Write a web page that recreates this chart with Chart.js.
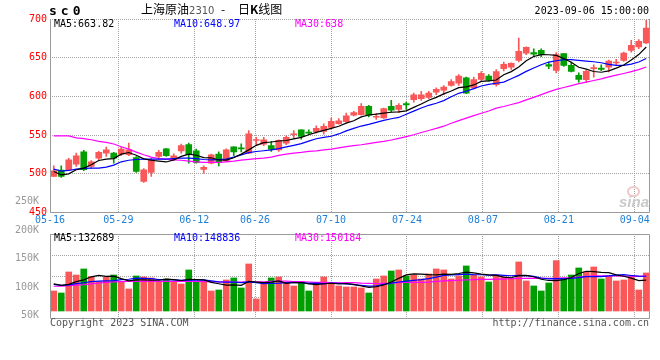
<!DOCTYPE html>
<html lang="zh-CN">
<head>
<meta charset="UTF-8">
<title>上海原油2310 - 日K线图</title>
<script src="https://cdn.jsdelivr.net/npm/chart.js"></script>
<style>
  body { margin: 0; background: #fff; }
  #box { position: relative; width: 660px; height: 360px; overflow: hidden;
         font-family: "DejaVu Sans Mono", monospace; font-size: 10px; color: #000; }
  canvas { position: absolute; left: 0; }
  #priceChart { top: 0; }
  #volChart { top: 185px; }
  .txt { position: absolute; white-space: pre; line-height: 12px; }
  .cjk { top: 2px; line-height: 14px; font-family: 'Noto Sans CJK SC'; font-size: 12px; }
  .blue { color: #0000ff; }
  .pink { color: #ff00ff; }
  .grey { color: #555; }
</style>
</head>
<body>
<div id="box">
  <canvas id="volChart" width="660" height="155"></canvas>
  <canvas id="priceChart" width="660" height="230"></canvas>

  <div class="txt" style="left:49px; top:5px; font-weight:bold; font-size:13px; letter-spacing:4px;">sc0</div>
  <div class="txt cjk" style="left:141px;">上海原油<span style="font-family:'DejaVu Sans'; font-size:10px; color:#555;">2310</span></div>
  <div class="txt cjk" style="left:221px;">-</div>
  <div class="txt cjk" style="left:238px;">日<b>K</b>线图</div>
  <div class="txt" style="right:11px; top:5px;">2023-09-06 15:00:00</div>

  <!-- 均线图例 -->
  <div class="txt" id="pMa5" style="left:54px; top:18px;"></div>
  <div class="txt blue" id="pMa10" style="left:174px; top:18px;"></div>
  <div class="txt pink" id="pMa30" style="left:295px; top:18px;"></div>
  <div class="txt" id="vMa5" style="left:54px; top:232px;"></div>
  <div class="txt blue" id="vMa10" style="left:174px; top:232px;"></div>
  <div class="txt pink" id="vMa30" style="left:295px; top:232px;"></div>

  <div class="txt grey" style="left:50px; top:317px;">Copyright 2023 SINA.COM</div>
  <div class="txt grey" style="right:11px; top:317px;">http://finance.sina.com.cn</div>

  <div style="position:absolute; left:627px; top:186px; width:9px; height:7px; border:2px solid #efc9c9; border-radius:50%;"></div>
  <div class="txt" style="left:619px; top:193px; line-height:15px; font:italic bold 15px 'Liberation Sans'; color:#c9c9c9;">sina</div>
</div>

<script>
// 日期 (交易日)
const dates = ['05-16','05-17','05-18','05-19','05-22','05-23','05-24','05-25','05-26','05-29','05-30','05-31',
  '06-01','06-02','06-05','06-06','06-07','06-08','06-09','06-12','06-13','06-14','06-15','06-16','06-19','06-20','06-21','06-26','06-27','06-28','06-29','06-30',
  '07-03','07-04','07-05','07-06','07-07','07-10','07-11','07-12','07-13','07-14','07-17','07-18','07-19','07-20','07-21','07-24','07-25','07-26','07-27','07-28','07-31',
  '08-01','08-02','08-03','08-04','08-07','08-08','08-09','08-10','08-11','08-14','08-15','08-16','08-17','08-18','08-21','08-22','08-23','08-24','08-25','08-28','08-29','08-30','08-31',
  '09-01','09-04','09-05','09-06'];

// K线
const opens = [496.6,504.7,505.2,512.5,528.4,509.5,520.3,526.7,526.7,525.4,
  524.6,521.1,490.1,501.7,522.4,532.3,519.0,529.7,537.9,529.7,
  505.6,513.8,525.4,516.8,534.9,533.2,526.7,543.0,538.4,536.6,
  531.0,539.7,550.4,556.9,553.9,554.3,554.7,559.9,564.7,567.2,
  575.6,576.5,587.2,573.1,572.2,587.2,583.3,590.6,595.7,597.0,
  598.7,605.6,608.1,614.1,617.1,623.9,611.1,621.8,626.1,615.0,
  635.8,637.9,646.5,656.0,656.5,659.5,641.0,633.6,655.2,640.1,
  627.2,621.5,635.8,636.6,637.9,643.1,646.5,659.5,663.8,669.0];
const highs = [510.3,510.3,520.0,526.7,530.2,517.2,528.9,534.5,527.6,534.5,
  539.7,522.4,506.9,520.3,530.2,532.8,525.9,538.4,539.7,531.9,
  510.3,525.4,528.4,532.3,534.9,538.8,556.0,547.0,547.0,541.8,
  544.0,549.1,556.0,556.9,556.9,562.1,564.7,572.0,571.5,578.4,
  580.8,590.6,588.5,577.8,585.0,594.9,590.6,592.7,604.3,606.4,
  606.4,611.1,614.1,621.8,628.2,624.8,624.8,632.1,628.2,634.6,
  644.4,643.5,675.4,664.2,661.6,661.6,644.4,656.5,655.2,644.4,
  630.6,633.6,640.9,640.9,647.0,647.8,657.3,672.4,673.3,698.3];
const lows = [496.6,495.3,504.3,509.5,503.9,507.3,517.2,522.4,513.8,523.3,
  523.3,501.7,488.8,496.6,519.0,522.4,517.2,526.7,513.8,513.8,
  500.9,512.9,510.3,515.9,523.3,528.4,525.9,536.2,536.2,528.9,
  528.9,537.5,546.1,544.8,550.4,552.6,551.3,557.8,564.2,566.4,
  574.8,575.6,573.5,570.1,571.4,579.9,579.1,583.3,592.7,594.9,
  597.0,602.1,602.1,613.3,614.1,603.4,609.8,620.5,619.7,613.3,
  632.8,634.9,644.4,653.9,651.3,651.3,635.8,630.2,638.8,631.5,
  618.5,618.5,625.0,633.2,631.5,640.1,645.3,657.3,661.6,668.1];
const closes = [503.9,496.6,518.1,523.3,505.2,515.5,527.6,531.0,520.3,531.9,
  531.0,503.0,505.2,518.1,527.6,523.3,523.3,536.6,524.6,514.7,
  508.2,524.6,514.7,531.0,528.4,532.3,551.7,544.3,544.0,531.9,
  543.1,547.0,551.2,548.3,552.6,558.6,561.2,567.7,568.5,575.0,
  579.1,587.2,575.6,574.0,584.2,582.1,588.5,588.9,602.1,602.1,
  604.3,609.0,612.0,619.2,626.1,604.3,621.8,629.9,620.5,632.1,
  641.4,642.7,658.2,663.4,654.7,654.3,639.2,653.9,640.1,632.3,
  622.0,632.3,637.1,634.9,645.7,644.4,656.0,665.9,671.1,688.4];

// 价格均线
const ma5 = [503.0,498.7,500.0,505.2,507.3,511.6,517.2,519.0,519.6,525.4,
  527.5,524.0,519.3,517.5,516.5,515.3,518.0,522.5,525.5,524.0,
  521.0,520.7,517.8,517.7,520.8,525.4,530.9,536.8,540.3,541.1,
  542.4,543.0,545.2,547.0,550.5,553.5,556.1,558.6,561.4,565.4,
  568.5,573.5,576.0,577.0,578.5,579.5,580.0,581.3,585.8,590.2,
  595.0,598.8,603.2,607.0,611.3,612.4,614.8,619.4,620.1,621.2,
  628.0,632.0,638.0,646.0,651.5,654.0,653.8,653.0,649.0,644.2,
  637.7,635.3,632.2,631.2,633.0,636.5,640.5,647.0,654.0,663.82];
const ma10 = [506.0,503.4,504.3,506.0,506.9,507.3,507.3,508.6,511.2,515.5,
  517.5,518.5,519.0,519.0,519.0,519.0,519.8,520.3,520.3,519.5,
  518.5,518.0,518.5,519.0,521.5,524.5,527.3,528.8,529.8,530.8,
  532.5,534.7,536.8,539.0,542.2,545.3,547.0,548.5,551.5,555.5,
  558.7,561.7,563.8,566.4,569.0,571.1,572.8,577.0,581.0,585.0,
  588.5,591.2,594.6,599.5,604.0,606.6,610.0,613.4,615.5,617.0,
  618.5,622.8,627.2,632.3,636.6,640.9,644.4,646.1,647.4,647.5,
  646.5,645.7,644.8,643.5,641.4,640.1,640.1,641.8,644.4,648.97];
const ma30 = [549.1,549.1,549.1,546.5,545.5,544.0,542.0,540.5,538.5,535.0,
  531.9,528.0,524.6,521.6,519.8,519.0,518.1,517.5,516.5,515.3,
  514.7,514.7,514.7,515.5,516.4,517.7,518.6,519.5,520.3,521.6,
  523.7,525.4,526.7,527.6,528.9,529.7,531.0,531.9,533.6,535.2,
  536.3,537.5,539.0,540.6,542.0,543.7,545.8,548.0,550.4,553.4,
  556.0,558.6,561.5,565.3,568.7,572.0,575.2,578.2,581.2,584.8,
  587.0,589.5,592.0,595.5,598.8,602.3,605.8,609.0,611.5,614.0,
  616.4,618.5,620.5,622.7,625.2,627.4,629.6,632.0,634.6,638.0];

// 成交量 (K)
const volumes = [85.8,77.2,167.3,154.4,180.2,147.3,125.9,144.4,154.4,125.9,
  94.4,150.2,145.9,141.6,125.9,137.3,125.9,115.8,175.9,125.9,
  125.9,85.8,90.1,133.0,141.6,98.7,201.6,51.5,118.7,141.6,
  145.9,118.7,107.3,125.9,85.8,118.7,145.9,118.7,107.3,103.0,
  103.0,98.7,77.2,137.3,150.2,171.6,175.9,150.2,154.4,137.3,
  158.7,180.2,175.9,137.3,150.2,193.1,154.4,145.9,124.4,154.4,
  145.9,140.2,210.2,128.7,107.3,85.8,120.1,216.0,140.2,154.4,
  184.5,167.3,188.8,137.3,150.2,128.7,133.0,147.3,90.1,163.0];
const volMa5 = [116,110,114,126,133.5,146.6,152.5,148.7,149.2,138.8,
  129.5,133,133.6,132.3,131.8,136.6,134.2,130.7,135.6,135.1,
  133,122.5,116.9,111,112.2,109.9,126.5,123.7,121.2,123.7,
  129,118.2,122.2,122,115.9,112.7,116.9,119,115.7,117.9,
  114.3,107,100.9,103.9,111.7,124.5,139.7,154.5,159.3,158,
  155.7,154.6,157.7,157,160.8,166.7,163.1,158.1,154.8,152.7,
  145.5,142.6,151.5,153,146.8,136.2,130.7,129.8,134,143.7,
  160.5,170.3,168.5,165.8,164.3,154.8,148.8,140.7,130.5,132.689];
const volMa10 = [114,110,112,117,121,126,128,129,130,134.7,
  136,140.7,139.7,139,134.8,134.3,133.8,131.4,132,132.5,
  133,128.8,124.5,123.6,123.4,121.5,125.2,121.5,117.7,118.5,
  119.5,121.6,122.5,121.6,118.3,119.3,116.5,119.4,118.8,116.4,
  112.7,109.7,106.7,107.8,114,119.2,124.2,128.2,131.1,134.3,
  139.1,145.2,152.6,154.6,156.1,158.2,156.1,155.4,153.9,154.8,
  153.1,151.1,152.3,151.4,148.3,141.4,137.7,138.7,138,139.5,
  143.4,147.3,147.2,147.6,150.3,153.9,155.5,152.1,149.1,148.836];
const volMa30 = [106,106,109,111,113,116,120,123,125,126,
  127,127,127,127,127,127,127,127,127,127,
  126,126,125,125,124,124,125,125,125,126.9,
  127.9,128,126.5,125.5,124,123,122.8,121.9,120.6,121.2,
  121.4,119.5,118.4,117.8,118.2,119.3,121.6,123.2,122.9,123,
  124,127.1,129.1,130.1,131.8,133.8,134.1,135.6,135.7,136.5,
  137,138.3,140,140.1,140.5,139.9,139.5,140.1,141.6,143,
  145.8,148,150.3,150.3,150.3,150.1,149.4,149.8,148.8,150.184];

// 坐标轴刻度
const tickIdx = [0, 9, 19, 27, 37, 47, 57, 67, 77];
const volLabels = [50, 100, 150, 200, 250];

const RED = '#fa5858', GREEN = '#009e00', GRID = '#a4a4a4';
const mono = { family: 'DejaVu Sans Mono', size: 10 };
const colors = closes.map((c, i) => c >= opens[i] ? RED : GREEN);

// 图例文字
const last = a => a[a.length - 1];
document.getElementById('pMa5').textContent = 'MA5:' + +last(ma5).toFixed(2);
document.getElementById('pMa10').textContent = 'MA10:' + +last(ma10).toFixed(2);
document.getElementById('pMa30').textContent = 'MA30:' + +last(ma30).toFixed(2);
document.getElementById('vMa5').textContent = 'MA5:' + Math.round(last(volMa5) * 1000);
document.getElementById('vMa10').textContent = 'MA10:' + Math.round(last(volMa10) * 1000);
document.getElementById('vMa30').textContent = 'MA30:' + Math.round(last(volMa30) * 1000);

// 边框
const framePlugin = {
    id: 'frame',
    afterDraw(chart, args, opts) {
        const { ctx, chartArea: a } = chart;
        const l = Math.floor(a.left) + 0.5, r = Math.floor(a.right) - 0.5;
        const t = Math.floor(a.top) + 0.5, b = Math.floor(a.bottom) + 0.5;
        ctx.save();
        ctx.strokeStyle = '#9a9a9a';
        ctx.lineWidth = 1;
        ctx.beginPath();
        ctx.moveTo(l, opts.top ? t : a.top);
        ctx.lineTo(l, b);
        ctx.lineTo(r, b);
        ctx.lineTo(r, opts.top ? t : a.top);
        if (opts.top) ctx.lineTo(l, t);
        ctx.stroke();
        ctx.restore();
    }
};

function dateAxis(show) {
    return {
        type: 'linear', position: 'bottom', min: 0, max: dates.length - 1,
        offset: false, bounds: 'data',
        afterBuildTicks: s => { s.ticks = tickIdx.map(v => ({ value: v })); },
        afterFit: s => { s.height = show ? 17.5 : 0; },
        grid: { color: GRID, drawTicks: false, offset: false },
        border: { display: false, dash: [1, 1] },
        ticks: { display: show, autoSkip: false, maxRotation: 0, padding: 2,
                 color: '#1e7fd8', font: mono, callback: v => dates[v] }
    };
}

function maLine(data, color, y) {
    return { type: 'line', data, xAxisID: 'x', yAxisID: y, borderColor: color,
             borderWidth: 1.2, pointRadius: 0, tension: 0, fill: false, order: 0 };
}

const common = {
    responsive: false, animation: false, devicePixelRatio: 1,
    events: []
};

// 日K线
new Chart(document.getElementById('priceChart'), {
    type: 'bar',
    data: {
        labels: dates,
        datasets: [
            maLine(ma5, '#000000', 'y'),
            maLine(ma10, '#0000ff', 'y'),
            maLine(ma30, '#ff00ff', 'y'),
            { data: opens.map((o, i) => [o, closes[i]]), backgroundColor: colors,
              barThickness: 6, minBarLength: 1, grouped: false, xAxisID: 'x', yAxisID: 'y', order: 1 },
            { data: lows.map((l, i) => [l, highs[i]]), backgroundColor: colors,
              barThickness: 1, grouped: false, xAxisID: 'x', yAxisID: 'y', order: 2 }
        ]
    },
    options: {
        ...common,
        layout: { padding: { top: 19, right: 10, left: 0, bottom: 0 } },
        plugins: { legend: { display: false }, tooltip: { enabled: false }, frame: { top: false } },
        scales: {
            x: { type: 'category', display: false, offset: true },
            xg: dateAxis(true),
            y: {
                position: 'left', min: 450, max: 700,
                afterFit: s => { s.width = 50; },
                ticks: { stepSize: 50, color: '#ff0000', font: mono, padding: 3 },
                grid: { color: GRID, drawTicks: false },
                border: { display: false, dash: [1, 1] }
            }
        }
    },
    plugins: [framePlugin]
});

// 成交量
new Chart(document.getElementById('volChart'), {
    type: 'bar',
    data: {
        labels: dates,
        datasets: [
            maLine(volMa5, '#000000', 'yv'),
            maLine(volMa10, '#0000ff', 'yv'),
            maLine(volMa30, '#ff00ff', 'yv'),
            { data: volumes, backgroundColor: colors, barThickness: 6, grouped: false,
              xAxisID: 'x', yAxisID: 'yv', order: 1 }
        ]
    },
    options: {
        ...common,
        layout: { padding: { top: 49, right: 10, left: 0, bottom: 22 } },
        plugins: { legend: { display: false }, tooltip: { enabled: false }, frame: { top: true } },
        scales: {
            x: { type: 'category', display: false, offset: true },
            xg: dateAxis(false),
            yl: {
                position: 'left', min: 45.8, max: 193.2, bounds: 'data',
                afterBuildTicks: s => { s.ticks = volLabels.map(v => ({ value: v })); },
                afterFit: s => { s.width = 50; },
                ticks: { autoSkip: false, color: '#999999', font: mono, padding: 3, callback: v => v + 'K' },
                grid: { display: false },
                border: { display: false }
            },
            yv: {
                position: 'left', min: -30, max: 330, bounds: 'data',
                afterBuildTicks: s => { s.ticks = [1, 2, 3].map(k => ({ value: s.max - k * (s.max - s.min) / 4 })); },
                afterFit: s => { s.width = 0; },
                ticks: { display: false },
                grid: { color: GRID, drawTicks: false },
                border: { display: false, dash: [1, 1] }
            }
        }
    },
    plugins: [framePlugin]
});
</script>
</body>
</html>
